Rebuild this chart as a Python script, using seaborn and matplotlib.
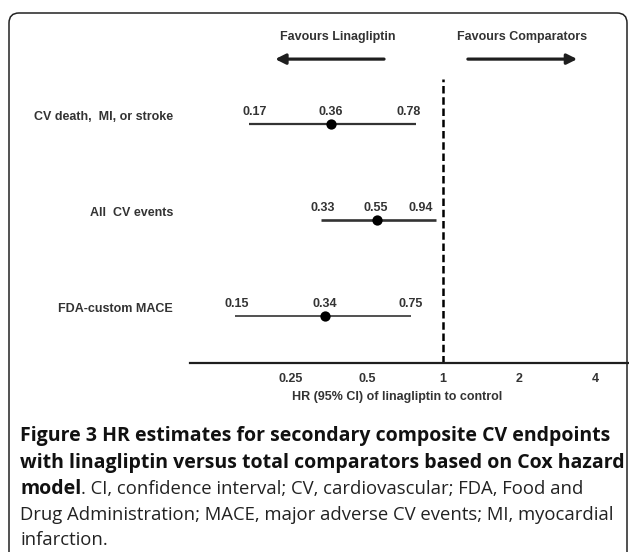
import pandas as pd
import matplotlib.pyplot as plt
import matplotlib.transforms as mtransforms
from matplotlib.patches import FancyBboxPatch
import seaborn as sns

# Datos
endpoints = ["CV death,  MI, or stroke", "All  CV events", "FDA-custom MACE"]
hr = [0.36, 0.55, 0.34]
ci_low = [0.17, 0.33, 0.15]
ci_high = [0.78, 0.94, 0.75]
tick_values = [0.25, 0.5, 1, 2, 4]
tick_labels = ["0.25", "0.5", "1", "2", "4"]

df = pd.DataFrame({
    "endpoint": endpoints,
    "hr": hr,
    "low": ci_low,
    "high": ci_high,
})
df["row"] = len(df) - df.index  # 3, 2, 1 de arriba a abajo

# desplazamientos (pixeles) de las etiquetas numericas: bajo, HR, alto
label_shift = [(6, 0, -7), (1, -2, -15), (2, 0, -1)]
line_widths = [1.6, 1.9, 1.2]

sns.set_theme(style="white")
plt.rcParams["font.family"] = ["Liberation Sans", "DejaVu Sans"]

fig = plt.figure(figsize=(6.29, 5.52), dpi=100)

# Marco redondeado del panel (en pixeles)
frame = FancyBboxPatch((9, -10), 618, 549, boxstyle="round,pad=0,rounding_size=10",
                       transform=mtransforms.IdentityTransform(), fill=False,
                       edgecolor="#222222", linewidth=1.1)
fig.patches.append(frame)

ax = fig.add_axes([190 / 629, (552 - 363) / 552, (629 - 190) / 629, (363 - 20) / 552])
ax.set_xscale("log", base=2)
ax.set_xlim(0.0996, 5.45)
ax.set_ylim(0.51, 4.08)

ink = "#1e1e1e"
grey_txt = "#333333"
fs = 9
row_lab_tr = mtransforms.blended_transform_factory(ax.transAxes, ax.transData)

# Intervalos de confianza
for i, r in df.iterrows():
    ax.hlines(r["row"], r["low"], r["high"], color="#333333", linewidth=line_widths[i], zorder=2)
    for val, dx in zip([r["low"], r["hr"], r["high"]], label_shift[i]):
        ax.annotate(f"{val:.2f}", xy=(val, r["row"] + 0.125), xytext=(dx, 0),
                    textcoords="offset pixels", ha="center", va="center",
                    fontsize=fs, fontweight="bold", color=grey_txt)
    ax.text(-0.0387, r["row"] + 0.073, r["endpoint"], transform=row_lab_tr,
            ha="right", va="center", fontsize=fs, fontweight="bold", color=grey_txt)

# Puntos HR
sns.scatterplot(data=df, x="hr", y="row", ax=ax, color="black", s=55,
                edgecolor="black", linewidth=0, zorder=3, legend=False)

# Linea de referencia en 1
ax.vlines(1, 0.51, 3.47, color="black", linewidth=1.8, linestyles=(0, (3, 1.5)), zorder=1)

# Textos y flechas superiores
ax.text(0.337, 0.950, "Favours Linagliptin", transform=ax.transAxes, ha="center", va="center",
        fontsize=fs, fontweight="bold", color=grey_txt)
ax.text(0.756, 0.950, "Favours Comparators", transform=ax.transAxes, ha="center", va="center",
        fontsize=fs, fontweight="bold", color=grey_txt)
arrow_kw = dict(arrowstyle="-|>", lw=2.3, color=ink, mutation_scale=15, shrinkA=0, shrinkB=0)
ax.annotate("", xy=(0.194, 0.886), xytext=(0.442, 0.886), xycoords="axes fraction", arrowprops=arrow_kw)
ax.annotate("", xy=(0.882, 0.886), xytext=(0.633, 0.886), xycoords="axes fraction", arrowprops=arrow_kw)

# Ejes
for side in ["top", "right", "left"]:
    ax.spines[side].set_visible(False)
ax.spines["bottom"].set_linewidth(1.6)
ax.spines["bottom"].set_color(ink)
ax.set_yticks([])
ax.set_xticks(tick_values)
ax.set_xticklabels(tick_labels)
ax.minorticks_off()
ax.tick_params(axis="x", direction="out", length=4, width=1.5, color=ink, pad=3.5,
               labelsize=fs, labelcolor=grey_txt)
for lbl in ax.get_xticklabels():
    lbl.set_fontweight("bold")
ax.set_xlabel("HR (95% CI) of linagliptin to control", fontsize=fs, fontweight="bold", color=grey_txt)
ax.xaxis.set_label_coords(0.472, -0.083)
ax.set_ylabel("")

# Pie de figura
cap = ["Open Sans", "DejaVu Sans"]
x0 = 20 / 629
lines_y = [436, 463, 489, 515, 540]
fig.text(x0, 1 - lines_y[0] / 552, "Figure 3 HR estimates for secondary composite CV endpoints",
         family=cap, fontweight="bold", fontsize=14, va="center", color="#111111")
fig.text(x0, 1 - lines_y[1] / 552, "with linagliptin versus total comparators based on Cox hazard",
         family=cap, fontweight="bold", fontsize=14, va="center", color="#111111")
bold_part = fig.text(x0, 1 - lines_y[2] / 552, "model", family=cap, fontweight="bold",
                     fontsize=14, va="center", color="#111111")
ax.annotate(". CI, confidence interval; CV, cardiovascular; FDA, Food and", xy=(1, 0.5),
            xycoords=bold_part, va="center", ha="left", family=cap, fontsize=13.3, color="#222222",
            annotation_clip=False)
fig.text(x0, 1 - lines_y[3] / 552, "Drug Administration; MACE, major adverse CV events; MI, myocardial",
         family=cap, fontsize=13.3, va="center", color="#222222")
fig.text(x0, 1 - lines_y[4] / 552, "infarction.", family=cap, fontsize=13.3, va="center", color="#222222")

plt.savefig("out.png", dpi=100)
plt.close()
